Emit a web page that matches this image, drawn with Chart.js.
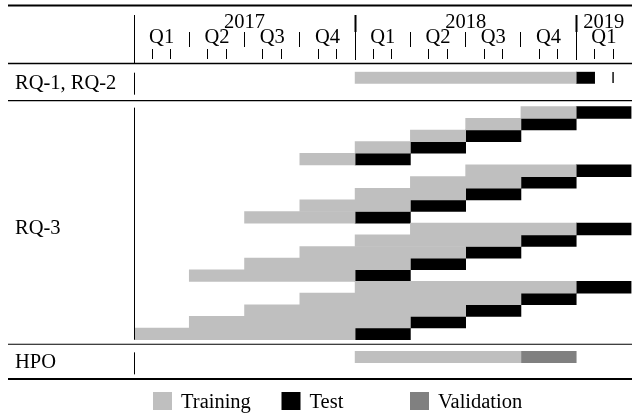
<!DOCTYPE html>
<html>
<head>
<meta charset="utf-8">
<script src="https://cdn.jsdelivr.net/npm/chart.js@4.4.0/dist/chart.umd.min.js"></script>
<style>
  body { margin: 0; background: #fff; }
  #wrap { width: 632px; height: 415px; }
</style>
</head>
<body>
<div id="wrap"><canvas id="chart"></canvas></div>
<script>
'use strict';

// time axis counted in months, 0 = January 2017
const monthCount = 27;
const years = ['2017', '2018', '2019'];
const yearStarts = [0, 12, 24];
const yearEnds = [12, 24, 27];
const quarters = ['Q1', 'Q2', 'Q3', 'Q4', 'Q1', 'Q2', 'Q3', 'Q4', 'Q1'];

// one entry per row of the table (gap rows keep the sections apart)
const rowLabels = [
    'RQ-1, RQ-2', 'gap-1', 'gap-2',
    'RQ-3 a1', 'RQ-3 a2', 'RQ-3 a3', 'RQ-3 a4', 'RQ-3 a5',
    'RQ-3 b1', 'RQ-3 b2', 'RQ-3 b3', 'RQ-3 b4', 'RQ-3 b5',
    'RQ-3 c1', 'RQ-3 c2', 'RQ-3 c3', 'RQ-3 c4', 'RQ-3 c5',
    'RQ-3 d1', 'RQ-3 d2', 'RQ-3 d3', 'RQ-3 d4', 'RQ-3 d5',
    'gap-3', 'HPO'
];

const training = [
    [12, 24], null, null,
    [21, 24], [18, 21], [15, 18], [12, 15], [9, 12],
    [18, 24], [15, 21], [12, 18], [9, 15], [6, 12],
    [15, 24], [12, 21], [9, 18], [6, 15], [3, 12],
    [12, 24], [9, 21], [6, 18], [3, 15], [0, 12],
    null, [12, 21]
];

const test = [
    [24, 25], null, null,
    [24, 27], [21, 24], [18, 21], [15, 18], [12, 15],
    [24, 27], [21, 24], [18, 21], [15, 18], [12, 15],
    [24, 27], [21, 24], [18, 21], [15, 18], [12, 15],
    [24, 27], [21, 24], [18, 21], [15, 18], [12, 15],
    null, null
];

const validation = [
    null, null, null,
    null, null, null, null, null,
    null, null, null, null, null,
    null, null, null, null, null,
    null, null, null, null, null,
    null, [21, 24]
];

const rqMarker = [{ x: 26, y: 'RQ-1, RQ-2' }];

const sectionLabels = ['RQ-1, RQ-2', 'RQ-3', 'HPO'];
const sectionFirstRow = [0, 3, 24];
const sectionLastRow = [0, 22, 24];

const colTraining = '#bfbfbf';
const colTest = '#000000';
const colValidation = '#808080';
const font = '20.5px "Liberation Serif"';

const crisp = v => Math.round(v - 0.5) + 0.5;

const tableDecor = {
    id: 'tableDecor',
    afterDraw(chart) {
        const ctx = chart.ctx;
        const xs = chart.scales.x;
        const ys = chart.scales.y;
        const area = chart.chartArea;
        const rowH = (area.bottom - area.top) / rowLabels.length;
        const rowTop = i => ys.getPixelForValue(i) - rowH / 2;
        const px = m => xs.getPixelForValue(m);
        const right = chart.width;

        const line = (x1, y1, x2, y2, w) => {
            ctx.lineWidth = w;
            ctx.beginPath();
            ctx.moveTo(x1, y1);
            ctx.lineTo(x2, y2);
            ctx.stroke();
        };

        ctx.save();
        ctx.strokeStyle = '#000';
        ctx.fillStyle = '#000';
        ctx.font = font;

        // horizontal rules
        line(8, 5.5, right, 5.5, 1.8);
        line(8, 63.5, right, 63.5, 1.5);
        line(8, rowTop(3) - 6, right, rowTop(3) - 6, 1.1);
        line(8, rowTop(23) + 4.5, right, rowTop(23) + 4.5, 1.1);
        line(8, rowTop(24) + rowH + 16, right, rowTop(24) + rowH + 16, 1.8);

        // header: years
        const x0 = crisp(px(0));
        line(x0, 15, x0, 63, 1);
        ctx.textAlign = 'center';
        ctx.textBaseline = 'alphabetic';
        years.forEach((yr, i) => {
            ctx.fillText(yr, (px(yearStarts[i]) + px(yearEnds[i])) / 2, 28);
            if (i > 0) {
                const xx = crisp(px(yearStarts[i]));
                line(xx, 15, xx, 32, 2);
                line(xx, 32, xx, 60, 1);
            }
        });

        // header: quarters
        quarters.forEach((q, i) => {
            ctx.fillText(q, px(i * 3 + 1.5), 43);
            if (i > 0 && i % 4 !== 0) {
                const xx = crisp(px(i * 3));
                line(xx, 32, xx, 47, 1);
            }
        });

        // header: month ticks
        for (let m = 1; m < monthCount; m++) {
            if (m % 3 === 0) continue;
            const xx = crisp(px(m));
            line(xx, 49, xx, 59, 1);
        }

        // section labels and separators
        ctx.textAlign = 'left';
        sectionLabels.forEach((lab, i) => {
            const top = rowTop(sectionFirstRow[i]);
            const bottom = rowTop(sectionLastRow[i]) + rowH;
            ctx.fillText(lab, 15, (top + bottom) / 2 + 11);
            line(x0, top + 1, x0, Math.max(bottom, top + 23), 1);
        });

        // legend
        const legend = chart.data.datasets.filter(d => d.type !== 'scatter');
        legend.forEach((d, i) => {
            const bx = 153 + i * 128.5;
            ctx.fillStyle = d.backgroundColor;
            ctx.fillRect(bx, 392, 19, 18);
            ctx.fillStyle = '#000';
            ctx.fillText(d.label, bx + 28, 408);
        });

        ctx.restore();
    }
};

new Chart(document.getElementById('chart'), {
    type: 'bar',
    data: {
        labels: rowLabels,
        datasets: [
            { label: 'Training', data: training, backgroundColor: colTraining },
            { label: 'Test', data: test, backgroundColor: colTest },
            { label: 'Validation', data: validation, backgroundColor: colValidation },
            {
                type: 'scatter',
                label: 'marker',
                data: rqMarker,
                pointStyle: 'line',
                pointRotation: 90,
                pointRadius: 5.5,
                borderColor: '#000',
                pointBorderColor: '#000',
                pointBorderWidth: 1.4
            }
        ]
    },
    options: {
        indexAxis: 'y',
        responsive: true,
        maintainAspectRatio: false,
        animation: false,
        layout: { autoPadding: false, padding: { left: 134, right: 0.5, top: 71.7, bottom: 52 } },
        datasets: {
            bar: { grouped: false, categoryPercentage: 1, barPercentage: 1, borderWidth: 0 }
        },
        scales: {
            x: { type: 'linear', min: 0, max: monthCount, display: false },
            y: { type: 'category', display: false }
        },
        plugins: {
            legend: { display: false },
            tooltip: { enabled: false }
        }
    },
    plugins: [tableDecor]
});
</script>
</body>
</html>
